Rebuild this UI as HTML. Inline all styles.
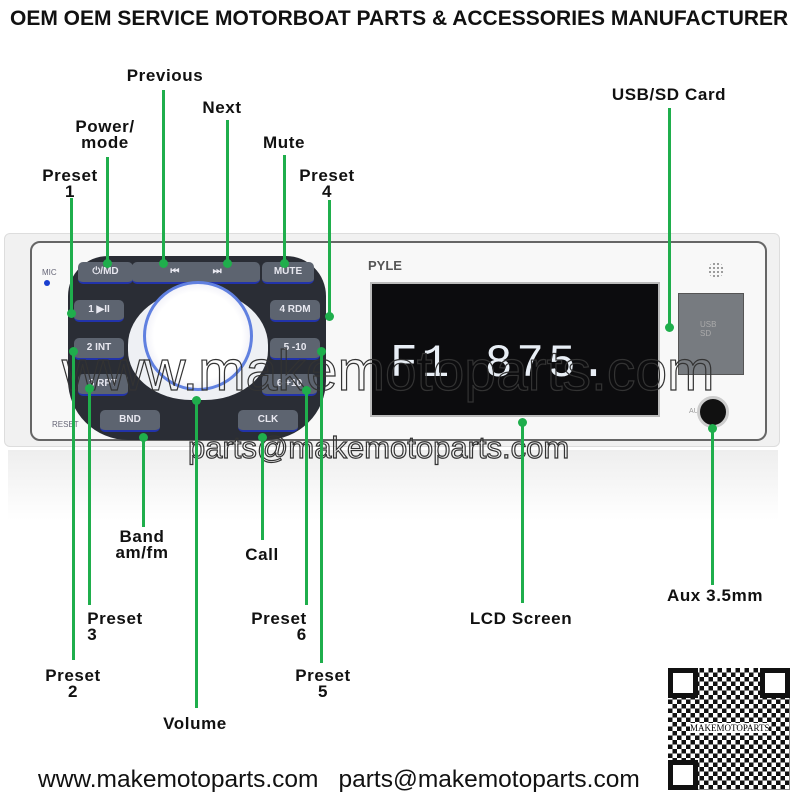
<!DOCTYPE html>
<html><head><style>
body{margin:0;width:800px;height:800px;background:#fff;position:relative;overflow:hidden;font-family:"Liberation Sans",sans-serif}
.a{position:absolute}
.l{position:absolute;font-weight:bold;font-size:17px;letter-spacing:0.6px;color:#111;text-align:center;line-height:16px;white-space:nowrap;transform:translateX(-50%)}
.g{position:absolute;width:3px;background:#1fae4c;margin-left:-1.5px}
.d{position:absolute;width:9px;height:9px;border-radius:50%;background:#1fae4c;margin:-4.5px 0 0 -4.5px}
.wm{position:absolute;color:transparent;-webkit-text-stroke:1.2px #333;white-space:nowrap}
.btn{position:absolute;background:#5d6470;color:#e8e8f0;font-size:10px;font-weight:bold;border-radius:5px;text-align:center;line-height:20px;border-bottom:2px solid #2233aa}
</style></head><body>
<div class="a" style="left:10px;top:7px;font-size:21px;font-weight:bold;color:#111;white-space:nowrap">OEM OEM SERVICE MOTORBOAT PARTS &amp; ACCESSORIES MANUFACTURER</div>

<div class="a" style="left:4px;top:233px;width:774px;height:212px;background:#f1f1f1;border-radius:6px;border:1px solid #ddd"></div>
<div class="a" style="left:8px;top:450px;width:770px;height:70px;background:linear-gradient(#eee,#fff)"></div>
<div class="a" style="left:30px;top:241px;width:733px;height:196px;background:#f8f8f8;border:2px solid #666;border-radius:10px"></div>
<div class="a" style="left:42px;top:268px;font-size:8px;color:#667">MIC</div>
<div class="a" style="left:44px;top:280px;width:6px;height:6px;border-radius:50%;background:#1a3fd0"></div>
<div class="a" style="left:52px;top:420px;font-size:8px;color:#667">RESET</div>

<div class="a" style="left:68px;top:256px;width:258px;height:184px;background:#2a2d35;border-radius:40px 40px 60px 60px"></div>
<div class="btn" style="left:78px;top:262px;width:55px">⏻/MD</div>
<div class="btn" style="left:132px;top:262px;width:128px">⏮&nbsp;&nbsp;&nbsp;&nbsp;&nbsp;&nbsp;&nbsp;&nbsp;&nbsp;&nbsp;&nbsp;&nbsp;⏭</div>
<div class="btn" style="left:262px;top:262px;width:52px">MUTE</div>
<div class="btn" style="left:74px;top:300px;width:50px">1 ▶II</div>
<div class="btn" style="left:74px;top:338px;width:50px">2 INT</div>
<div class="btn" style="left:78px;top:374px;width:50px">3 RPT</div>
<div class="btn" style="left:270px;top:300px;width:50px">4 RDM</div>
<div class="btn" style="left:270px;top:338px;width:50px">5 -10</div>
<div class="btn" style="left:262px;top:374px;width:55px">6 +10</div>
<div class="btn" style="left:100px;top:410px;width:60px">BND</div>
<div class="btn" style="left:238px;top:410px;width:60px">CLK</div>
<div class="a" style="left:128px;top:290px;width:140px;height:110px;background:#eef0f4;border-radius:50% 50% 45% 45%"></div>
<div class="a" style="left:143px;top:281px;width:104px;height:104px;border-radius:50%;background:radial-gradient(#fff 60%,#dde 90%);border:3px solid #6080e0"></div>

<div class="a" style="left:368px;top:258px;font-size:13px;font-weight:bold;color:#555">PYLE</div>
<div class="a" style="left:370px;top:282px;width:286px;height:131px;background:#0c0c0e;border:2px solid #bbb"></div>
<div class="a" style="left:390px;top:338px;font-size:46px;color:#e8eef5;font-family:'Liberation Mono',monospace;letter-spacing:4px">F1 875.</div>
<div class="a" style="left:678px;top:293px;width:64px;height:80px;background:#777b80;border:1px solid #555"></div>
<div class="a" style="left:700px;top:320px;font-size:8px;color:#aaa">USB<br>SD</div>
<div class="a" style="left:708px;top:262px;width:16px;height:16px;border-radius:50%;background:radial-gradient(#888 30%,transparent 40%) 0 0/4px 4px"></div>
<div class="a" style="left:689px;top:408px;font-size:7px;color:#999">AUX</div>
<div class="a" style="left:697px;top:396px;width:26px;height:26px;border-radius:50%;background:#111;border:3px solid #ccc"></div>

<div class="wm" style="left:62px;top:338px;font-size:57px">www.makemotoparts.com</div>
<div class="wm" style="left:188px;top:430px;font-size:31px">parts@makemotoparts.com</div>

<div class="g" style="left:71px;top:198px;height:115px"></div><div class="d" style="left:71px;top:313px"></div>
<div class="g" style="left:107px;top:157px;height:106px"></div><div class="d" style="left:107px;top:263px"></div>
<div class="g" style="left:163px;top:90px;height:173px"></div><div class="d" style="left:163px;top:263px"></div>
<div class="g" style="left:227px;top:120px;height:143px"></div><div class="d" style="left:227px;top:263px"></div>
<div class="g" style="left:284px;top:155px;height:108px"></div><div class="d" style="left:284px;top:263px"></div>
<div class="g" style="left:329px;top:200px;height:116px"></div><div class="d" style="left:329px;top:316px"></div>
<div class="g" style="left:669px;top:108px;height:219px"></div><div class="d" style="left:669px;top:327px"></div>
<div class="g" style="left:73px;top:351px;height:309px"></div><div class="d" style="left:73px;top:351px"></div>
<div class="g" style="left:89px;top:388px;height:217px"></div><div class="d" style="left:89px;top:388px"></div>
<div class="g" style="left:143px;top:437px;height:90px"></div><div class="d" style="left:143px;top:437px"></div>
<div class="g" style="left:196px;top:400px;height:308px"></div><div class="d" style="left:196px;top:400px"></div>
<div class="g" style="left:262px;top:437px;height:103px"></div><div class="d" style="left:262px;top:437px"></div>
<div class="g" style="left:306px;top:390px;height:215px"></div><div class="d" style="left:306px;top:390px"></div>
<div class="g" style="left:321px;top:351px;height:312px"></div><div class="d" style="left:321px;top:351px"></div>
<div class="g" style="left:522px;top:422px;height:181px"></div><div class="d" style="left:522px;top:422px"></div>
<div class="g" style="left:712px;top:428px;height:157px"></div><div class="d" style="left:712px;top:428px"></div>

<div class="l" style="left:165px;top:68px">Previous</div>
<div class="l" style="left:222px;top:100px">Next</div>
<div class="l" style="left:105px;top:119px">Power/<br>mode</div>
<div class="l" style="left:284px;top:135px">Mute</div>
<div class="l" style="left:70px;top:168px">Preset<br>1</div>
<div class="l" style="left:327px;top:168px">Preset<br>4</div>
<div class="l" style="left:669px;top:87px">USB/SD Card</div>
<div class="l" style="left:142px;top:529px">Band<br>am/fm</div>
<div class="l" style="left:262px;top:547px">Call</div>
<div class="l" style="left:521px;top:611px">LCD Screen</div>
<div class="l" style="left:715px;top:588px">Aux 3.5mm</div>
<div class="l" style="left:115px;top:611px;text-align:left">Preset<br>3</div>
<div class="l" style="left:279px;top:611px;text-align:right">Preset<br>6</div>
<div class="l" style="left:73px;top:668px">Preset<br>2</div>
<div class="l" style="left:323px;top:668px">Preset<br>5</div>
<div class="l" style="left:195px;top:716px">Volume</div>

<div class="a" style="left:38px;top:766px;font-size:24.5px;color:#111;white-space:nowrap">www.makemotoparts.com<span style="display:inline-block;width:20px"></span>parts@makemotoparts.com</div>
<div class="a" style="left:668px;top:668px;width:122px;height:122px;background:repeating-conic-gradient(#111 0 25%,#fff 0 50%) 0 0/9px 9px"></div>
<div class="a" style="left:668px;top:668px;width:30px;height:30px;border:5px solid #111;background:#fff;box-sizing:border-box"></div>
<div class="a" style="left:760px;top:668px;width:30px;height:30px;border:5px solid #111;background:#fff;box-sizing:border-box"></div>
<div class="a" style="left:668px;top:760px;width:30px;height:30px;border:5px solid #111;background:#fff;box-sizing:border-box"></div>
<div class="a" style="left:690px;top:723px;font-size:9px;background:#fff;font-family:'Liberation Serif',serif">MAKEMOTOPARTS</div>
</body></html>
